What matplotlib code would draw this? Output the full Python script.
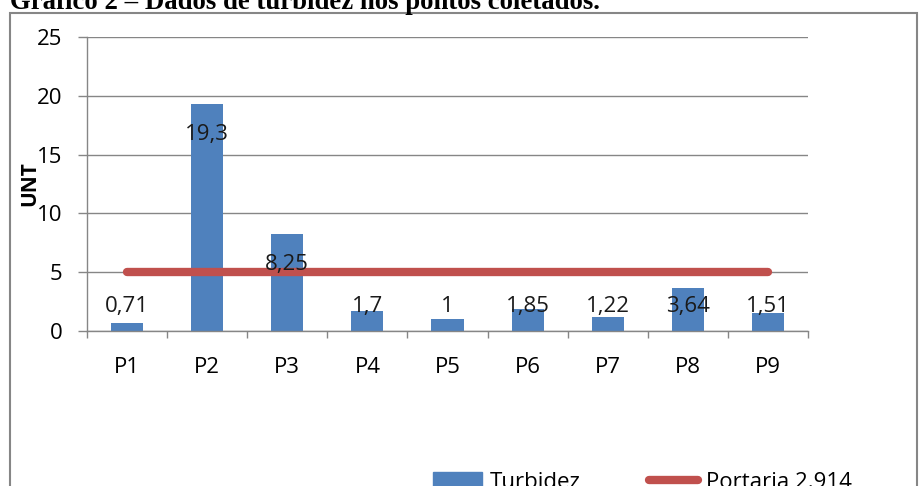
import matplotlib.pyplot as plt
import numpy as np
from matplotlib.patches import Rectangle
from matplotlib.lines import Line2D

# Turbidity per sampling point (NTU).
pontos = ['P1', 'P2', 'P3', 'P4', 'P5', 'P6', 'P7', 'P8', 'P9']
turbidez = [0.71, 19.3, 8.25, 1.7, 1.0, 1.85, 1.22, 3.64, 1.51]
rotulos = ['0,71', '19,3', '8,25', '1,7', '1', '1,85', '1,22', '3,64', '1,51']
portaria = [5, 5, 5, 5, 5, 5, 5, 5, 5]

azul = '#4F81BD'
vermelho = '#C0504D'
cinza = '#868686'
fs = 16

plt.rcParams['font.family'] = ['Open Sans', 'DejaVu Sans']

fig = plt.figure(figsize=(9.19, 4.86), dpi=100)

# Outer chart frame (cut off at the bottom in the reference).
fig.patches.append(Rectangle((10 / 919, -0.05), 907 / 919, 1.05 - 13 / 486,
                             transform=fig.transFigure, fill=False,
                             edgecolor=cinza, linewidth=1.5))

# Caption above the frame, partly clipped at the top.
cap = fig.text(10 / 919, 1 - 9 / 486, 'Gráfico 2 – Dados de turbidez nos pontos coletados.',
               family='Liberation Serif', fontweight='bold', fontsize=19,
               va='baseline', ha='left')
r = fig.canvas.get_renderer()
w = cap.get_window_extent(r).width
cap.set_fontsize(19 * 588 / w)

ax = fig.add_axes([87 / 919, 1 - 331 / 486, 721 / 919, 294 / 486])

x = np.arange(len(pontos))
ax.bar(x, turbidez, width=0.4, color=azul, zorder=2)
ax.plot(x, portaria, color=vermelho, linewidth=6, solid_capstyle='round', zorder=3)

# Data labels: Excel put them just inside the top of tall bars,
# and at a fixed height above short ones.
for xi, v, t in zip(x, turbidez, rotulos):
    ax.text(xi, max(v - 2.6, 2.1), t, ha='center', va='center',
            fontsize=fs, color='#1a1a1a', zorder=4)

ax.set_xlim(-0.5, len(pontos) - 0.5)
ax.set_ylim(0, 25)
ax.set_yticks([0, 5, 10, 15, 20, 25])
ax.set_xticks(x)
ax.set_xticklabels(pontos)
ax.set_xticks(np.arange(-0.5, len(pontos), 1), minor=True)
ax.tick_params(axis='x', which='major', length=0, pad=19, labelsize=fs)
ax.tick_params(axis='x', which='minor', length=5, color=cinza, width=1)
ax.tick_params(axis='y', length=6.5, color=cinza, width=1, labelsize=fs, pad=11)
ax.grid(axis='y', color=cinza, linewidth=1, zorder=0)
ax.set_axisbelow(True)
for s in ['top', 'right']:
    ax.spines[s].set_visible(False)
for s in ['left', 'bottom']:
    ax.spines[s].set_color(cinza)
    ax.spines[s].set_linewidth(1)

fig.text(29.5 / 919, 1 - 184 / 486, 'UNT', rotation=90, fontweight='bold',
         fontsize=15, ha='center', va='center')

handles = [Rectangle((0, 0), 1, 1, color=azul),
           Line2D([0], [0], color=vermelho, linewidth=6, solid_capstyle='round')]
fig.legend(handles, ['Turbidez', 'Portaria 2.914'], loc='center left',
           bbox_to_anchor=(433 / 919, 1 - 482 / 486), ncol=2, frameon=False,
           fontsize=fs, handlelength=2.2, handletextpad=0.35, columnspacing=3.1,
           borderpad=0, borderaxespad=0)

fig.savefig('out.png', dpi=100)
